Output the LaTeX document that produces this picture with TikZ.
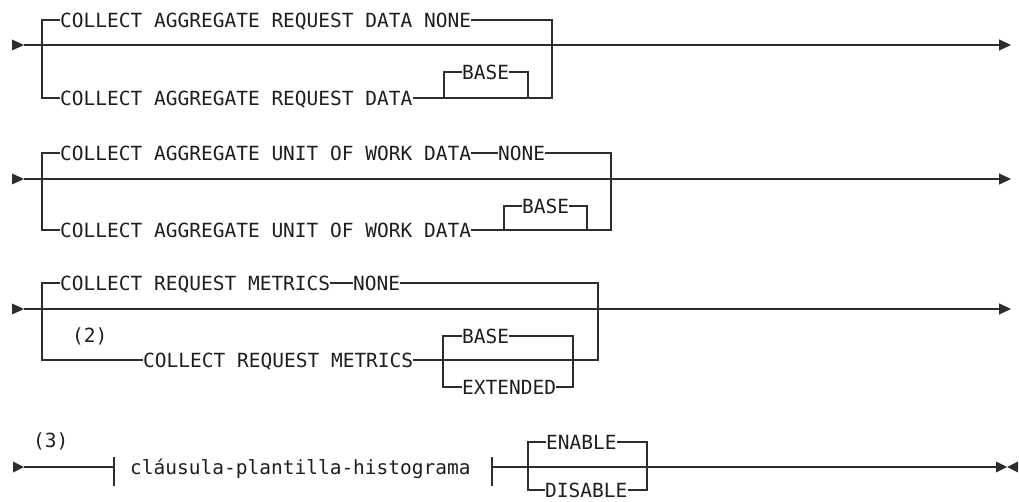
\documentclass[tikz,border=0pt]{standalone}
\usepackage{fontspec}
\usepackage{tikz}
\usetikzlibrary{arrows.meta, positioning, calc}
\newfontfamily\railfont{DejaVu Sans Mono}
\definecolor{railgray}{RGB}{45,45,45}
\definecolor{railtext}{RGB}{30,30,30}

\begin{document}
\begin{tikzpicture}[x=1pt, y=-1pt,
  rail/.style={draw=railgray, line width=1.2pt},
  kw/.style={font=\railfont\fontsize{19.5}{22}\selectfont, text=railtext, inner sep=0pt,
    text height=14.2pt, text depth=0pt, anchor=west},
  tip/.style={-{Triangle[length=12pt, width=11pt]}}]

  \useasboundingbox (0,0) rectangle (1019,502);

  % row 1
  \coordinate (a1) at (12,45);
  \coordinate (e1) at (1011,45);
  \coordinate (l1) at (42,45);
  \coordinate (r1) at (552,45);
  \coordinate (bl1) at (444,98);
  \coordinate (br1) at (528,98);
  \node[kw] (none1) at (60,20) {COLLECT AGGREGATE REQUEST DATA NONE};
  \node[kw] (data1) at (60,98) {COLLECT AGGREGATE REQUEST DATA};
  \node[kw] (base1) at (462,72) {BASE};
  \fill[railgray] (a1) ++(0,-5.5) -- ++(12,5.5) -- ++(-12,5.5) -- cycle;
  \draw[rail, tip] ([xshift=12pt]a1) -- (e1);
  \draw[rail] (none1.west) -- (none1.west -| l1) -- (data1.west -| l1) -- (data1.west);
  \draw[rail] (none1.east) -- (none1.east -| r1) -- (data1.east -| r1) -- (data1.east);
  \draw[rail] (bl1) |- (base1.west);
  \draw[rail] (base1.east) -| (br1);

  % row 2
  \coordinate (a2) at (12,179);
  \coordinate (e2) at (1011,179);
  \coordinate (l2) at (42,179);
  \coordinate (r2) at (611,179);
  \coordinate (bl2) at (504,230);
  \coordinate (br2) at (587,230);
  \node[kw] (data2a) at (60,153) {COLLECT AGGREGATE UNIT OF WORK DATA};
  \node[kw] (none2) at (498,153) {NONE};
  \node[kw] (data2b) at (60,230) {COLLECT AGGREGATE UNIT OF WORK DATA};
  \node[kw] (base2) at (522,206) {BASE};
  \fill[railgray] (a2) ++(0,-5.5) -- ++(12,5.5) -- ++(-12,5.5) -- cycle;
  \draw[rail, tip] ([xshift=12pt]a2) -- (e2);
  \draw[rail] (data2a) -- (none2);
  \draw[rail] (data2a.west) -- (data2a.west -| l2) -- (data2b.west -| l2) -- (data2b.west);
  \draw[rail] (none2.east) -- (none2.east -| r2) -- (data2b.east -| r2) -- (data2b.east);
  \draw[rail] (bl2) |- (base2.west);
  \draw[rail] (base2.east) -| (br2);

  % row 3
  \coordinate (a3) at (12,309);
  \coordinate (e3) at (1011,309);
  \coordinate (l3) at (42,309);
  \coordinate (r3) at (598,309);
  \coordinate (bl3) at (443,360);
  \coordinate (br3) at (573,360);
  \node[kw] (metrics3a) at (60,283) {COLLECT REQUEST METRICS};
  \node[kw] (none3) at (353,283) {NONE};
  \node[kw] (note2) at (72,335) {(2)};
  \node[kw] (metrics3b) at (143,360) {COLLECT REQUEST METRICS};
  \node[kw] (base3) at (462,336) {BASE};
  \node[kw] (ext3) at (462,387) {EXTENDED};
  \fill[railgray] (a3) ++(0,-5.5) -- ++(12,5.5) -- ++(-12,5.5) -- cycle;
  \draw[rail, tip] ([xshift=12pt]a3) -- (e3);
  \draw[rail] (metrics3a) -- (none3);
  \draw[rail] (metrics3a.west) -- (metrics3a.west -| l3) -- (metrics3b.west -| l3) -- (metrics3b.west);
  \draw[rail] (none3.east) -- (none3.east -| r3) -- (metrics3b.east -| r3) -- (metrics3b.east);
  \draw[rail] (base3.west) -| (ext3.west -| bl3) -- (ext3.west);
  \draw[rail] (base3.east) -| (ext3.east -| br3) -- (ext3.east);

  % row 4
  \coordinate (a4) at (13,467);
  \coordinate (bar4a) at (114,467);
  \coordinate (bar4b) at (492,467);
  \coordinate (el) at (528,467);
  \coordinate (er) at (647,467);
  \coordinate (e4) at (996,467);
  \node[kw] (note3) at (33,440) {(3)};
  \node[kw] (frag) at (130,467) {cláusula-plantilla-histograma};
  \node[kw] (enable) at (546,442) {ENABLE};
  \node[kw] (disable) at (545,490) {DISABLE};
  \fill[railgray] (a4) ++(0,-5.5) -- ++(11,5.5) -- ++(-11,5.5) -- cycle;
  \draw[rail] ([xshift=11pt]a4) -- (bar4a);
  \draw[rail] (bar4a) ++(0,-10) -- ++(0,29);
  \draw[rail] (bar4b) ++(0,-10) -- ++(0,29);
  \draw[rail] (bar4b) -- (e4);
  \draw[rail] (enable.west) -| (disable.west -| el) -- (disable.west);
  \draw[rail] (enable.east) -| (disable.east -| er) -- (disable.east);
  \fill[railgray] (e4) ++(0,-5.5) -- ++(11,5.5) -- ++(-11,5.5) -- cycle;
  \fill[railgray] (e4) ++(22,-5.5) -- ++(-11,5.5) -- ++(11,5.5) -- cycle;
\end{tikzpicture}
\end{document}
